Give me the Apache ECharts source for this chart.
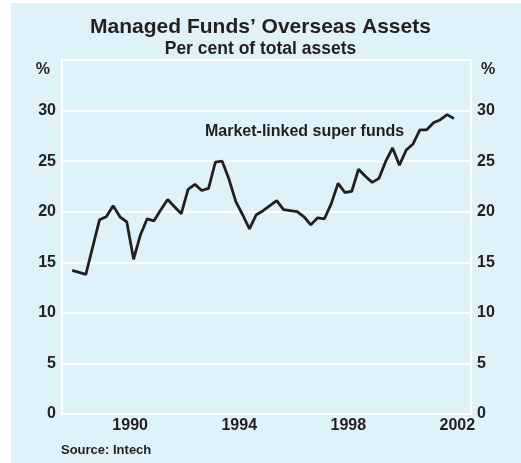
<!DOCTYPE html>
<html>
<head>
<meta charset="utf-8">
<script src="https://cdn.jsdelivr.net/npm/echarts@6/dist/echarts.min.js"></script>
<style>
  html, body { margin: 0; padding: 0; background: #ffffff; }
  #chart { width: 521px; height: 463px; }
</style>
</head>
<body>
<div id="chart"></div>
<script>
// quarterly observations, plotted at mid-quarter (fractional years)
var dates = [1988.375, 1988.875,
  1989.375, 1989.625, 1989.875, 1990.125, 1990.375, 1990.625, 1990.875,
  1991.125, 1991.375, 1991.625, 1991.875, 1992.125, 1992.375, 1992.625, 1992.875,
  1993.125, 1993.375, 1993.625, 1993.875, 1994.125, 1994.375, 1994.625, 1994.875,
  1995.125, 1995.375, 1995.625, 1995.875, 1996.125, 1996.375, 1996.625, 1996.875,
  1997.125, 1997.375, 1997.625, 1997.875, 1998.125, 1998.375, 1998.625, 1998.875,
  1999.125, 1999.375, 1999.625, 1999.875, 2000.125, 2000.375, 2000.625, 2000.875,
  2001.125, 2001.375, 2001.625, 2001.875, 2002.125, 2002.375];
var superFunds = [14.2, 13.8,
  19.2, 19.5, 20.6, 19.5, 19.0, 15.3, 17.7,
  19.3, 19.1, 20.2, 21.2, 20.5, 19.8, 22.2, 22.7,
  22.1, 22.3, 24.9, 25.0, 23.2, 21.0, 19.7, 18.3,
  19.7, 20.1, 20.6, 21.1, 20.2, 20.1, 20.0, 19.5,
  18.7, 19.4, 19.3, 20.8, 22.8, 21.9, 22.0, 24.2,
  23.5, 22.9, 23.3, 25.0, 26.3, 24.6, 26.1, 26.7,
  28.1, 28.1, 28.8, 29.1, 29.6, 29.2];
var years = ['1988', '1989', '1990', '1991', '1992', '1993', '1994', '1995',
  '1996', '1997', '1998', '1999', '2000', '2001', '2002'];
var shownYears = ['1990', '1994', '1998', '2002'];

var font = "'Liberation Sans', Arial, sans-serif";
var ink = '#231f20';
var panel = '#dff1f9';

var chart = echarts.init(document.getElementById('chart'));

var points = [];
for (var i = 0; i < dates.length; i++) {
  points.push([dates[i], superFunds[i]]);
}

function yAxisFor(pos) {
  return {
    type: 'value',
    position: pos,
    min: 0,
    max: 35,
    interval: 5,
    axisLine: { show: false },
    axisTick: { show: false },
    axisLabel: {
      color: ink,
      fontFamily: font,
      fontWeight: 'bold',
      fontSize: 16,
      margin: 6,
      formatter: function (v) { return v === 35 ? '' : v; }
    },
    splitLine: { lineStyle: { color: '#ffffff', width: 1.5 } }
  };
}

var option = {
  backgroundColor: '#ffffff',
  animation: false,
  title: {
    text: 'Managed Funds\u2019 Overseas Assets',
    subtext: 'Per cent of total assets',
    left: 'center',
    top: 12,
    itemGap: 2,
    textStyle: { color: ink, fontFamily: font, fontWeight: 'bold', fontSize: 21 },
    subtextStyle: { color: ink, fontFamily: font, fontWeight: 'bold', fontSize: 17.5 }
  },
  graphic: [
    { type: 'rect', z: -10, shape: { x: 11, y: 3, width: 510, height: 460 }, style: { fill: panel } },
    { type: 'text', x: 50, y: 70, style: { text: '%', fill: ink, font: 'bold 16px ' + font, textAlign: 'right', textVerticalAlign: 'middle' } },
    { type: 'text', x: 481, y: 70, style: { text: '%', fill: ink, font: 'bold 16px ' + font, textAlign: 'left', textVerticalAlign: 'middle' } },
    { type: 'text', x: 61, y: 450, style: { text: 'Source: Intech', fill: ink, font: 'bold 13px ' + font, textVerticalAlign: 'middle' } },
    { type: 'text', x: 205, y: 132, style: { text: 'Market-linked super funds', fill: ink, font: 'bold 16px ' + font, textVerticalAlign: 'middle' } }
  ],
  grid: {
    left: 62,
    right: 50,
    top: 60,
    bottom: 49,
    show: true,
    borderColor: '#ffffff',
    borderWidth: 2,
    backgroundColor: 'transparent'
  },
  xAxis: [
    {
      type: 'category',
      data: years,
      boundaryGap: true,
      axisLine: { lineStyle: { color: '#ffffff', width: 2 } },
      axisTick: { inside: true, length: 8, lineStyle: { color: '#ffffff', width: 1.5 } },
      axisLabel: {
        color: ink,
        fontFamily: font,
        fontWeight: 'bold',
        fontSize: 16,
        margin: 4,
        interval: function (idx, val) { return shownYears.indexOf(val) >= 0; }
      },
      splitLine: { show: false }
    },
    {
      type: 'value',
      min: 1988,
      max: 2003,
      show: false
    }
  ],
  yAxis: [yAxisFor('left'), yAxisFor('right')],
  series: [
    {
      name: 'Market-linked super funds',
      type: 'line',
      xAxisIndex: 1,
      yAxisIndex: 0,
      data: points,
      symbol: 'none',
      lineStyle: { color: ink, width: 2.8 },
      z: 5
    }
  ]
};

chart.setOption(option);
</script>
</body>
</html>
